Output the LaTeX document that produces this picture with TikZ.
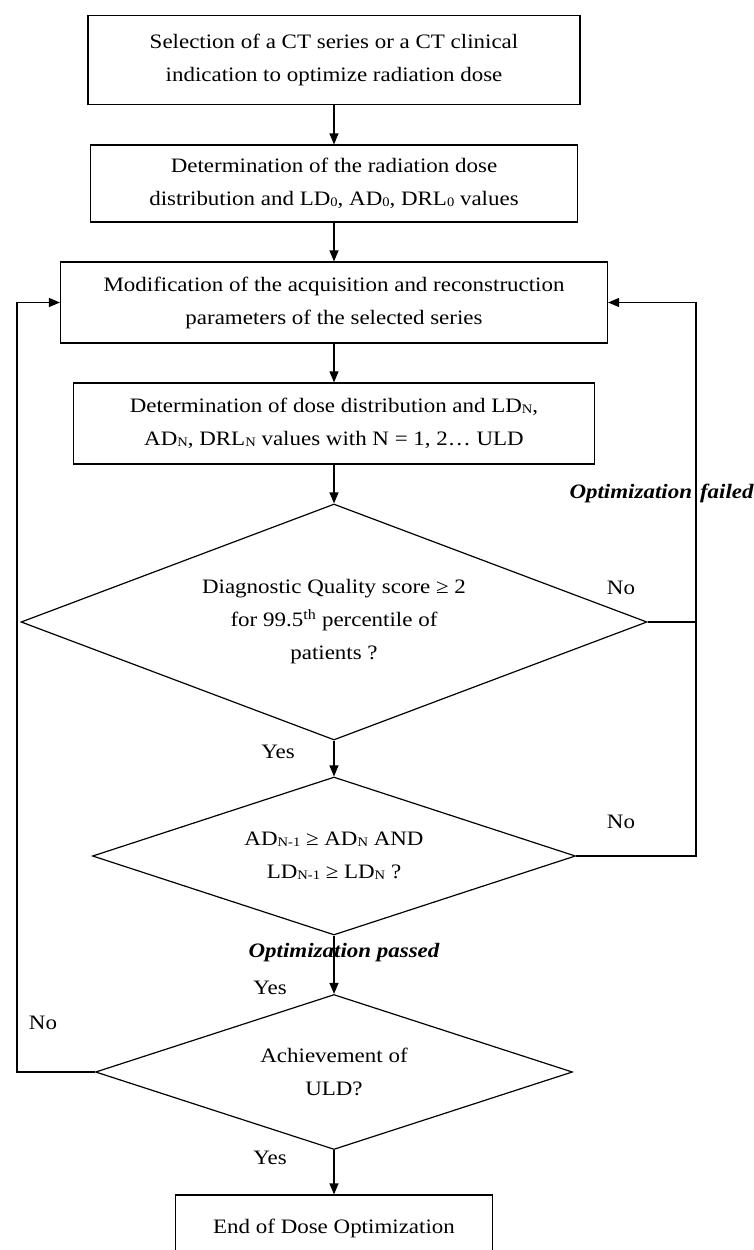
\documentclass[tikz,border=0pt]{standalone}
\usepackage{fontspec}
\setmainfont{Liberation Serif}[FakeStretch=1.12]
\usetikzlibrary{shapes.geometric,arrows.meta}
\newcommand{\sbs}[1]{\raisebox{-0.1ex}{\fontsize{13}{13}\selectfont #1}}
\begin{document}
\begin{tikzpicture}[x=1pt,y=-1pt,
  txtfont/.style={font=\fontsize{20.5}{33}\selectfont},
  box/.style={draw,line width=1.2pt,inner sep=0pt,align=center,txtfont},
  dia/.style={draw,diamond,line width=1.2pt,inner sep=0pt,align=center,txtfont},
  arr/.style={line width=1.2pt,-{Triangle[length=11pt,width=9pt]}},
  ln/.style={line width=1.2pt},
  lbl/.style={inner sep=0pt,font=\fontsize{20.5}{22}\selectfont},
  emphlbl/.style={inner sep=0pt,font=\fontsize{20.5}{22}\selectfont\bfseries\itshape}]
\useasboundingbox (0,0) rectangle (753,1250);
\clip (0,0) rectangle (753,1250);

\node[box,minimum width=492pt,minimum height=89pt] (b1) at (334,60)
  {Selection of a CT series or a CT clinical\\indication to optimize radiation dose};
\node[box,minimum width=487pt,minimum height=77pt] (b2) at (334,183.5)
  {Determination of the radiation dose\\distribution and LD\sbs{0}, AD\sbs{0}, DRL\sbs{0} values};
\node[box,minimum width=547pt,minimum height=81pt] (b3) at (334,302.5)
  {Modification of the acquisition and reconstruction\\parameters of the selected series};
\node[box,minimum width=521pt,minimum height=81pt] (b4) at (334,423.5)
  {Determination of dose distribution and LD\sbs{N},\\AD\sbs{N}, DRL\sbs{N} values with N = 1, 2… ULD};
\node[dia,shape aspect=2.65,minimum width=626pt,minimum height=236pt] (d1) at (334,622)
  {Diagnostic Quality score ≥ 2\\for 99.5\textsuperscript{th} percentile of\\patients ?};
\node[dia,shape aspect=3.06,minimum width=483pt,minimum height=158pt] (d2) at (334,856)
  {AD\sbs{N-1} ≥ AD\sbs{N} AND\\LD\sbs{N-1} ≥\ LD\sbs{N} ?};
\node[dia,shape aspect=3.08,minimum width=477pt,minimum height=155pt] (d3) at (334,1072)
  {Achievement of\\ULD?};
\node[box,minimum width=317pt,minimum height=66pt] (b5) at (334,1228)
  {End of Dose Optimization};

\coordinate (rt) at (696,302.5);
\coordinate (lt) at (17,302.5);

\draw[arr] (b1) -- (b2);
\draw[arr] (b2) -- (b3);
\draw[arr] (b3) -- (b4);
\draw[arr] (b4) -- (d1);
\draw[arr] (d1) -- (d2);
\draw[arr] (d2) -- (d3);
\draw[arr] (d3) -- (b5);
\draw[arr] (d1.east) -| (rt) -- (b3.east);
\draw[ln] (d2.east) -| (d1.east -| rt);
\draw[arr] (d3.west) -| (lt) -- (b3.west);

\node[emphlbl] (of) at (696,493) {\llap{Optimization\hspace{4pt}}\rlap{\hspace{4pt}failed}};
\node[lbl] (n1) at (621,588) {No};
\node[lbl] (y1) at (278,752) {Yes};
\node[lbl] (n2) at (621,822) {No};
\node[emphlbl] (op) at (344,953) {Optimization passed};
\node[lbl] (y2) at (270,988) {Yes};
\node[lbl] (n3) at (43,1023) {No};
\node[lbl] (y3) at (270,1158) {Yes};
\end{tikzpicture}
\end{document}
